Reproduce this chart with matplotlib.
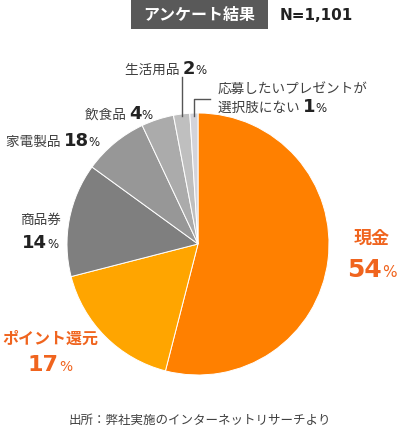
import matplotlib
matplotlib.use("Agg")
import matplotlib.pyplot as plt
from matplotlib.patches import Rectangle

plt.rcParams['font.family'] = ['Noto Sans CJK JP', 'DejaVu Sans']

# ---- data ----
categories = ['現金', 'ポイント還元', '商品券', '家電製品', '飲食品', '生活用品', '応募したいプレゼントが選択肢にない']
values = [54, 17, 14, 8, 4, 2, 1]          # slice sizes as drawn
label_numbers = ['54', '17', '14', '18', '4', '2', '1']  # numbers as printed on labels
colors = ['#FF8000', '#FFA500', '#7F7F7F', '#979797', '#ABABAB', '#BFBFBF', '#D3D3DA']
title_text = 'アンケート結果'
n_text = 'N=1,101'
source_text = '出所：弊社実施のインターネットリサーチより'

W, H = 400, 435
fig = plt.figure(figsize=(W / 100, H / 100), dpi=100)
ax = fig.add_axes([0, 0, 1, 1])
ax.set_xlim(0, W)
ax.set_ylim(0, H)
ax.set_aspect('equal')
ax.axis('off')

def Y(y):
    return H - y

ax.pie(values, colors=colors, startangle=90, counterclock=False,
       center=(198, Y(245)), radius=131,
       wedgeprops=dict(edgecolor='white', linewidth=0.7), frame=True)
ax.set_xlim(0, W)
ax.set_ylim(0, H)
ax.axis('off')

renderer = fig.canvas.get_renderer()

def run(parts, x, y, ha='left'):
    """parts: list of (text, kwargs); draws them side by side on a common baseline."""
    objs = []
    widths = []
    for s, kw in parts:
        t = ax.text(0, Y(y), s, va='baseline', ha='left', **kw)
        bb = t.get_window_extent(renderer=renderer)
        objs.append(t)
        widths.append(bb.width)
    total = sum(widths)
    if ha == 'center':
        x0 = x - total / 2
    elif ha == 'right':
        x0 = x - total
    else:
        x0 = x
    for t, w in zip(objs, widths):
        t.set_x(x0)
        x0 += w

gray = '#404040'
dark = '#222222'
red = '#F0641E'

def name(s, size=9.8, color=gray, weight='normal'):
    return (s, dict(fontsize=size, color=color, fontweight=weight))

def num(s, size=13, color=dark):
    return (s, dict(fontsize=size, color=color, fontweight='bold', family=['DejaVu Sans']))

def pct(size=8.5, color=dark):
    return ('%', dict(fontsize=size, color=color, family=['DejaVu Sans']))

# title box
ax.add_patch(Rectangle((131, Y(30)), 137, 30, facecolor='#595959', edgecolor='none'))
ax.text(199.5, Y(15), title_text, color='white', fontsize=11.5, fontweight='bold', ha='center', va='center')
ax.text(280, Y(15), n_text, color=dark, fontsize=11, fontweight='bold', ha='left', va='center',
        family=['DejaVu Sans'])

# labels
run([name(categories[5] + ' '), num(label_numbers[5]), pct()], 125, 74)
run([name('応募したいプレゼントが')], 218, 94)
run([name('選択肢にない '), num(label_numbers[6]), pct()], 218, 112)
run([name(categories[4] + ' '), num(label_numbers[4]), pct()], 85, 119)
run([name(categories[3] + ' '), num(label_numbers[3]), pct()], 6, 146)
run([name(categories[2])], 40, 224, ha='center')
run([num(label_numbers[2]), pct()], 40, 248, ha='center')
run([name(categories[1], size=11.5, color=red, weight='bold')], 50, 344, ha='center')
run([num(label_numbers[1], size=16, color=red), pct(size=10, color=red)], 50, 371, ha='center')
run([name(categories[0], size=13, color=red, weight='bold')], 372, 244, ha='center')
run([num(label_numbers[0], size=18, color=red), pct(size=11, color=red)], 372, 277, ha='center')

# leader lines
ax.plot([182, 182], [Y(78), Y(117)], color='#555555', lw=1)
ax.plot([210, 194, 194], [Y(100), Y(100), Y(117)], color='#555555', lw=1)

# source
ax.text(200, Y(420), source_text, color=gray, fontsize=9, ha='center', va='center')

fig.savefig('out.png', dpi=100)
